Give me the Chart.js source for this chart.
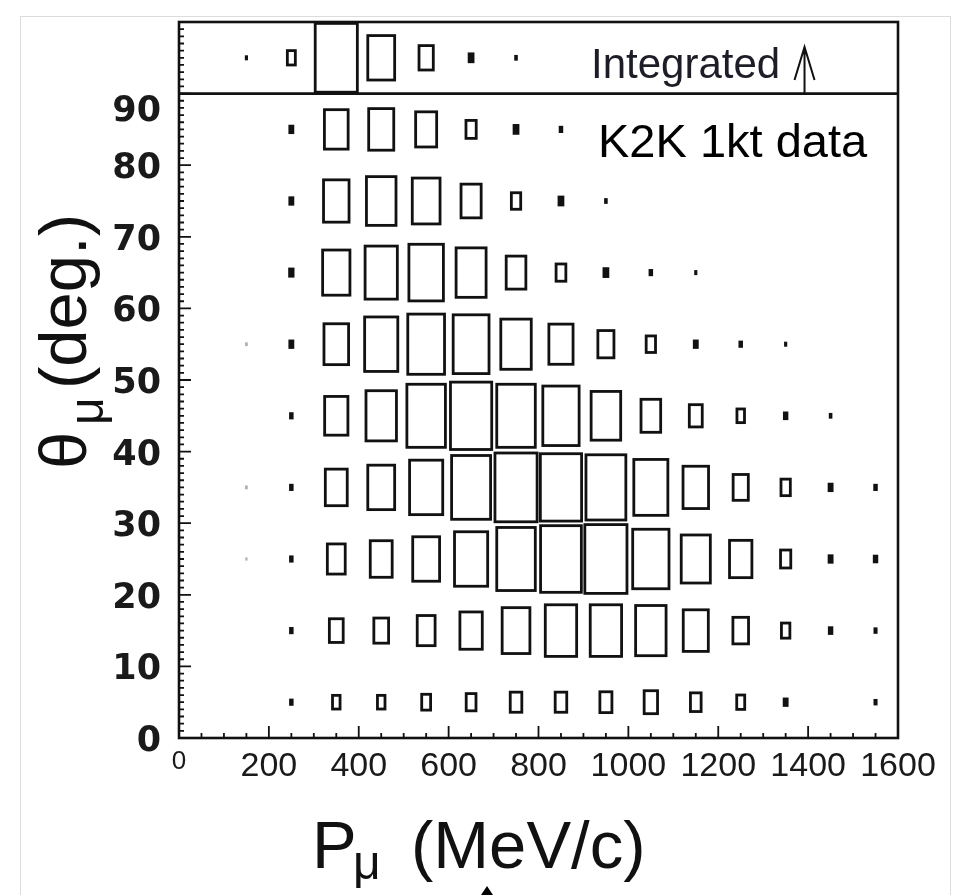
<!DOCTYPE html>
<html>
<head>
<meta charset="utf-8">
<script src="https://cdn.jsdelivr.net/npm/chart.js@4.4.0/dist/chart.umd.min.js"></script>
<style>
  html, body { margin: 0; padding: 0; background: #fff; }
  canvas { display: block; }
</style>
</head>
<body>
<canvas id="k2k" width="968" height="895"></canvas>
<script>
// momentum bin centres (MeV/c), bins are 100 MeV/c wide
const pmuBins = [150, 250, 350, 450, 550, 650, 750, 850, 950, 1050, 1150, 1250, 1350, 1450, 1550];
// angle bin centres (deg), bins are 10 deg wide, "Integrated" strip sits on top
const thetaBins = [5, 15, 25, 35, 45, 55, 65, 75, 85];
const integratedTheta = 95;

// relative box size per cell (1 = box fills the whole bin)
const theta00to10 = [0, 0.10, 0.23, 0.23, 0.26, 0.28, 0.32, 0.32, 0.33, 0.36, 0.30, 0.24, 0.13, 0, 0.09];
const theta10to20 = [0, 0.10, 0.37, 0.39, 0.46, 0.56, 0.68, 0.76, 0.76, 0.74, 0.62, 0.41, 0.25, 0.12, 0.09];
const theta20to30 = [0.03, 0.10, 0.46, 0.55, 0.66, 0.80, 0.92, 0.97, 1.00, 0.87, 0.71, 0.56, 0.29, 0.13, 0.12];
const theta30to40 = [0.04, 0.10, 0.55, 0.66, 0.80, 0.93, 1.00, 0.98, 0.95, 0.82, 0.63, 0.40, 0.27, 0.13, 0.10];
const theta40to50 = [0, 0.10, 0.58, 0.74, 0.92, 0.98, 0.92, 0.87, 0.72, 0.50, 0.35, 0.23, 0.12, 0.08, 0];
const theta50to60 = [0.04, 0.13, 0.61, 0.80, 0.88, 0.86, 0.74, 0.60, 0.42, 0.27, 0.13, 0.10, 0.07, 0, 0];
const theta60to70 = [0, 0.14, 0.67, 0.78, 0.83, 0.73, 0.50, 0.28, 0.15, 0.10, 0.07, 0, 0, 0, 0];
const theta70to80 = [0, 0.13, 0.63, 0.72, 0.68, 0.51, 0.27, 0.15, 0.08, 0, 0, 0, 0, 0, 0];
const theta80to90 = [0, 0.13, 0.59, 0.62, 0.53, 0.29, 0.15, 0.10, 0, 0, 0, 0, 0, 0, 0];
const integrated  = [0.07, 0.24, 1.00, 0.66, 0.38, 0.15, 0.08, 0, 0, 0, 0, 0, 0, 0, 0];

const xTicks = [0, 200, 400, 600, 800, 1000, 1200, 1400, 1600];
const yTicks = [0, 10, 20, 30, 40, 50, 60, 70, 80, 90];

const rows = [theta00to10, theta10to20, theta20to30, theta30to40, theta40to50,
              theta50to60, theta60to70, theta70to80, theta80to90];

const FONT = "'Liberation Sans', Arial, Helvetica, sans-serif";

function cells(row, theta) {
  const out = [];
  row.forEach((v, i) => { if (v > 0) out.push({ x: pmuBins[i], y: theta, v: v }); });
  return out;
}

const datasets = rows.map((row, i) => ({
  label: thetaBins[i] - 5 + '-' + (thetaBins[i] + 5) + ' deg',
  data: cells(row, thetaBins[i]),
  pointRadius: 0,
  borderColor: '#111'
}));
datasets.push({ label: 'Integrated', data: cells(integrated, integratedTheta), pointRadius: 0, borderColor: '#111' });

// draws each cell as an open box scaled inside its bin
const boxPlugin = {
  id: 'boxes',
  afterDatasetsDraw(chart) {
    const ctx = chart.ctx, xs = chart.scales.x, ys = chart.scales.y;
    ctx.save();
    chart.data.datasets.forEach(ds => {
      ds.data.forEach(d => {
        const x0 = xs.getPixelForValue(d.x - 50 * d.v);
        const x1 = xs.getPixelForValue(d.x + 50 * d.v);
        const y0 = ys.getPixelForValue(d.y + 5 * d.v);
        const y1 = ys.getPixelForValue(d.y - 5 * d.v);
        if (d.v < 0.05) {
          ctx.fillStyle = 'rgba(0,0,0,0.3)';
          ctx.fillRect(x0 - 0.5, y0 - 0.5, x1 - x0 + 1, y1 - y0 + 1);
        } else if (d.v < 0.17) {
          ctx.fillStyle = ds.borderColor;
          ctx.fillRect(x0, y0, x1 - x0, y1 - y0);
        } else {
          ctx.strokeStyle = ds.borderColor;
          ctx.lineWidth = 2.8;
          ctx.strokeRect(x0 + 1.4, y0 + 1.4, x1 - x0 - 2.8, y1 - y0 - 2.8);
        }
      });
    });
    ctx.restore();
  }
};

// frame, inward ticks, annotations and axis titles
const framePlugin = {
  id: 'frame',
  beforeDraw(chart) {
    const ctx = chart.ctx;
    ctx.save();
    ctx.fillStyle = '#fff';
    ctx.fillRect(0, 0, chart.width, chart.height);
    ctx.strokeStyle = '#dcdcdc';
    ctx.lineWidth = 1;
    ctx.strokeRect(20.5, 16.5, 930, 900);
    ctx.restore();
  },
  afterDraw(chart) {
    const ctx = chart.ctx, a = chart.chartArea, xs = chart.scales.x, ys = chart.scales.y;
    ctx.save();
    ctx.strokeStyle = '#111';
    // minor / major ticks
    ctx.lineWidth = 1.8;
    ctx.beginPath();
    for (let v = 1; v < 100; v++) {
      const y = ys.getPixelForValue(v);
      const len = v % 10 === 0 ? 12 : 5;
      ctx.moveTo(a.left, y); ctx.lineTo(a.left + len, y);
    }
    for (let v = 50; v < 1600; v += 50) {
      const x = xs.getPixelForValue(v);
      const len = v % 200 === 0 ? 12 : 5;
      ctx.moveTo(x, a.bottom); ctx.lineTo(x, a.bottom - len);
    }
    ctx.stroke();
    // frame and the "Integrated" separator
    ctx.lineWidth = 2.6;
    ctx.strokeRect(a.left, a.top, a.right - a.left, a.bottom - a.top);
    const ySep = ys.getPixelForValue(90);
    ctx.beginPath();
    ctx.moveTo(a.left, ySep); ctx.lineTo(a.right, ySep);
    ctx.stroke();

    // "Integrated" label with arrow
    ctx.fillStyle = '#1d1d28';
    ctx.font = '42px ' + FONT;
    ctx.textBaseline = 'alphabetic';
    ctx.textAlign = 'left';
    ctx.fillText('Integrated', 591, 78);
    const ax = xs.getPixelForValue(1392);
    ctx.lineWidth = 2;
    ctx.beginPath();
    ctx.moveTo(ax, ySep); ctx.lineTo(ax, 47);
    ctx.moveTo(ax - 10, 80); ctx.lineTo(ax, 47); ctx.lineTo(ax + 10, 80);
    ctx.stroke();

    ctx.fillStyle = '#000';
    ctx.font = '47px ' + FONT;
    ctx.fillText('K2K 1kt data', 598, 157);

    // x title: P_mu (MeV/c)
    ctx.fillStyle = '#111';
    ctx.font = '67px ' + FONT;
    ctx.fillText('P', 312, 868);
    ctx.font = '48px ' + FONT;
    ctx.fillText('\u03bc', 353, 879);
    ctx.font = '67px ' + FONT;
    ctx.fillText('(MeV/c)', 411, 868);

    // y title: theta_mu (deg.)
    ctx.translate(86, 469);
    ctx.rotate(-Math.PI / 2);
    ctx.font = '67px ' + FONT;
    ctx.fillText('\u03b8', 0, 0);
    ctx.font = '48px ' + FONT;
    ctx.fillText('\u03bc', 44, 17);
    ctx.font = '67px ' + FONT;
    ctx.fillText('(deg.)', 80, 0);
    ctx.restore();

    // small marker under the x title
    ctx.save();
    ctx.fillStyle = '#000';
    ctx.beginPath();
    ctx.moveTo(487, 886); ctx.lineTo(481, 895); ctx.lineTo(493, 895);
    ctx.closePath();
    ctx.fill();
    ctx.restore();
  }
};

new Chart(document.getElementById('k2k'), {
  type: 'scatter',
  data: { datasets: datasets },
  options: {
    responsive: false,
    animation: false,
    layout: { padding: { top: 22, right: 70, left: 0, bottom: 0 } },
    plugins: { legend: { display: false }, tooltip: { enabled: false } },
    scales: {
      x: {
        type: 'linear', min: 0, max: 1600,
        afterFit(s) { s.height = 157; s.paddingLeft = 0; s.paddingRight = 0; },
        afterBuildTicks(s) { s.ticks = xTicks.map(v => ({ value: v })); },
        grid: { display: false, drawTicks: false },
        border: { display: false },
        ticks: {
          padding: 8,
          color: '#1a1a1a',
          maxRotation: 0,
          autoSkip: false,
          callback: v => String(v),
          font: c => ({ family: FONT, size: c.tick && c.tick.value === 0 ? 26 : 34 })
        }
      },
      y: {
        type: 'linear', min: 0, max: 100,
        afterFit(s) { s.width = 179; s.paddingTop = 0; s.paddingBottom = 0; },
        afterBuildTicks(s) { s.ticks = yTicks.map(v => ({ value: v })); },
        grid: { display: false, drawTicks: false },
        border: { display: false },
        ticks: {
          padding: 18,
          labelOffset: 4,
          color: '#1a1a1a',
          autoSkip: false,
          font: { family: "'DejaVu Sans', sans-serif", size: 35, weight: 'bold', lineHeight: 0.8 },
          callback: v => (v === 90 ? ['', '90'] : String(v))
        }
      }
    }
  },
  plugins: [boxPlugin, framePlugin]
});
</script>
</body>
</html>
